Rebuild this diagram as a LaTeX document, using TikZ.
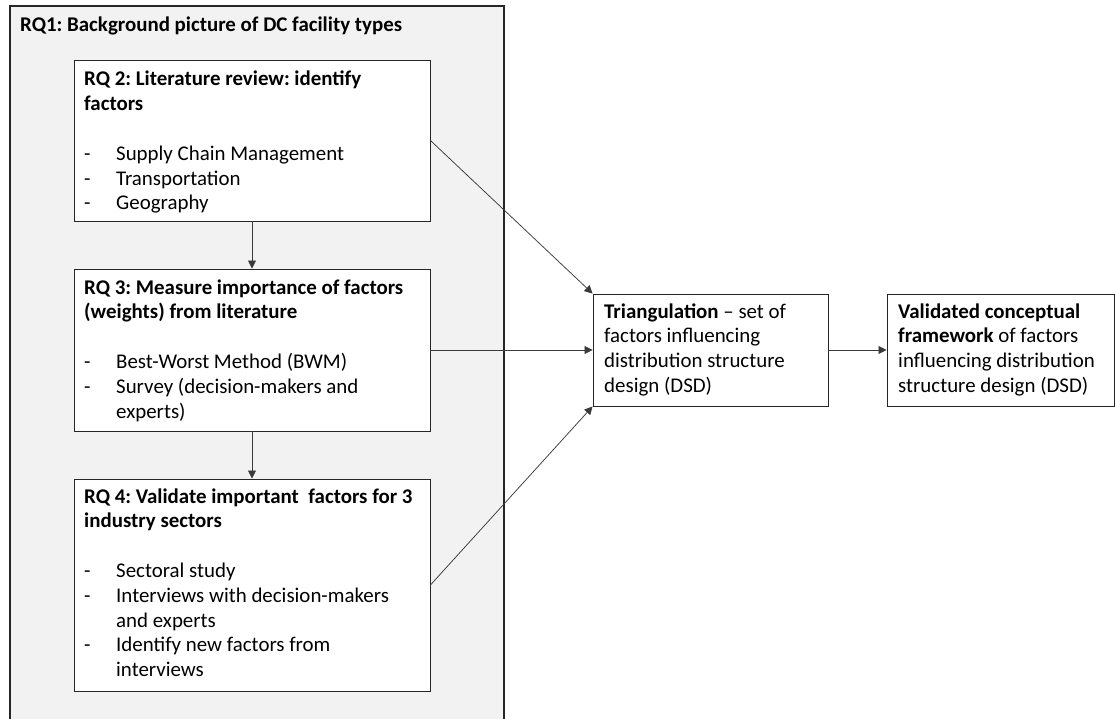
\documentclass[tikz,border=0pt]{standalone}
\usepackage{fontspec}
\setmainfont{Carlito}
\usetikzlibrary{arrows.meta}
\frenchspacing

\definecolor{panelgray}{HTML}{F2F2F2}
\definecolor{edge}{HTML}{262626}
\definecolor{arrowcol}{HTML}{3A3A3A}

\tikzset{
  panel/.style={draw=edge, line width=0.9pt, fill=white, inner sep=0pt},
  boxtext/.style={anchor=base west, inner sep=0pt, align=left,
                  font=\fontsize{20.9}{24.8}\selectfont},
  flow/.style={draw=arrowcol, line width=0.75pt,
               -{Triangle[length=8pt,width=8pt]}},
}
\newcommand\bul{\makebox[32pt][l]{-}}
\newcommand\cont{\hspace*{32pt}}
\newcommand\lines[2]{\parbox[t]{#1}{#2}}

\begin{document}
\begin{tikzpicture}[x=1pt,y=-1pt]
  \useasboundingbox (0,0) rectangle (1115,719);
  \clip (0,0) rectangle (1115,719);

  % outer RQ1 panel, open at the bottom
  \fill[panelgray] (10,6) rectangle (504,725);
  \draw[edge, line width=1.3pt] (10,725) -- (10,6) -- (504,6) -- (504,725);
  \node[boxtext] (rq1t) at (20,31.5) {\textbf{RQ1: Background picture of DC facility types}};

  % research question boxes
  \node[panel, minimum width=356pt, minimum height=161pt] (rq2) at (252,140.5) {};
  \node[panel, minimum width=356pt, minimum height=162pt] (rq3) at (252,350) {};
  \node[panel, minimum width=356pt, minimum height=212pt] (rq4) at (252,585) {};

  \node[boxtext] (rq2t) at (84,86) {\lines{340pt}{%
    \textbf{RQ 2: Literature review: identify}\\
    \textbf{factors}\\[24.8pt]
    \bul Supply Chain Management\\
    \bul Transportation\\
    \bul Geography}};

  \node[boxtext] (rq3t) at (84,294) {\lines{340pt}{%
    \textbf{RQ 3: Measure importance of factors}\\
    \textbf{(weights) from literature}\\[24.8pt]
    \bul Best-Worst Method (BWM)\\
    \bul Survey (decision-makers and\\
    \cont experts)}};

  \node[boxtext] (rq4t) at (84,503) {\lines{340pt}{%
    \textbf{RQ 4: Validate important~ factors for 3}\\
    \textbf{industry sectors}\\[24.8pt]
    \bul Sectoral study\\
    \bul Interviews with decision-makers\\
    \cont and experts\\
    \bul Identify new factors from\\
    \cont interviews}};

  % result boxes
  \node[panel, minimum width=235pt, minimum height=112pt] (tri) at (710.5,350) {};
  \node[panel, minimum width=227pt, minimum height=112pt] (val) at (1000.5,350) {};

  \node[boxtext] (trit) at (604,318) {\lines{220pt}{%
    \textbf{Triangulation} -- set of\\
    factors influencing\\
    distribution structure\\
    design (DSD)}};

  \node[boxtext] (valt) at (898,318) {\lines{214pt}{%
    \textbf{Validated conceptual}\\
    \textbf{framework} of factors\\
    influencing distribution\\
    structure design (DSD)}};

  % connectors
  \draw[flow] (rq2.south) -- (rq3.north);
  \draw[flow] (rq3.south) -- (rq4.north);
  \draw[flow] (rq2.east) -- (tri.north west);
  \draw[flow] (rq3.east) -- (tri.west);
  \draw[flow] (rq4.east) -- (tri.south west);
  \draw[flow] (tri.east) -- (val.west);
\end{tikzpicture}
\end{document}
